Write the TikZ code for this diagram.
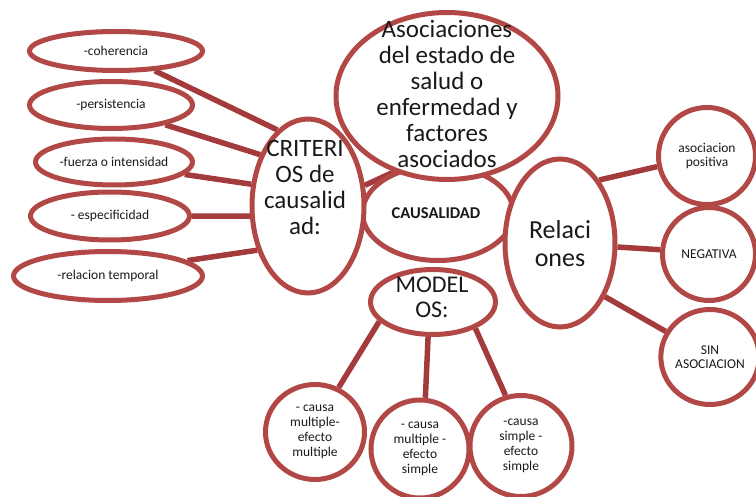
\documentclass[tikz,border=0pt]{standalone}
\usepackage{fontspec}
\setmainfont{Carlito}
\usetikzlibrary{shapes.geometric,backgrounds}
\definecolor{rim}{HTML}{B14846}
\definecolor{link}{HTML}{A33B3D}
\definecolor{ink}{HTML}{1A1A1A}
\begin{document}
\begin{tikzpicture}[x=1pt,y=-1pt,
  bub/.style={ellipse, draw=rim, line width=5pt, fill=white, inner sep=0pt},
  small/.style={font=\fontsize{13.5}{14.5}\selectfont, text=ink, align=center},
  big/.style={font=\fontsize{25}{26}\selectfont, text=ink, align=center},
  wire/.style={draw=link, line width=5.5pt}]
\useasboundingbox (0,0) rectangle (756,497);

% central concept and the bubbles around it
\node[bub, minimum width=151pt, minimum height=95pt] (caus) at (438,213) {};
\node[font=\fontsize{16.5}{18}\bfseries, text=ink] (caus-t) at (436,213) {CAUSALIDAD};

\node[bub, minimum width=112pt, minimum height=174pt] (crit) at (308,206) {};
\node[big] (crit-t) at (305,187) {CRITERI\\OS de\\causalid\\ad:};

\node[bub, minimum width=222pt, minimum height=167pt] (asoc) at (447,96) {};
\node[big] (asoc-t) at (447,93.5) {Asociaciones\\del estado de\\salud o\\enfermedad y\\factores\\asociados};

\node[bub, minimum width=110pt, minimum height=168pt] (rel) at (560,243) {};
\node[font=\fontsize{26}{28}\selectfont, text=ink, align=center] (rel-t) at (560,243.5) {Relaci\\ones};

\node[bub, minimum width=125pt, minimum height=65pt] (mod) at (433,302) {};
\node[font=\fontsize{24}{25}\selectfont, text=ink, align=center] (mod-t) at (432,297) {MODEL\\OS:};

% causality criteria
\node[bub, small, minimum width=173pt, minimum height=39pt] (coh) at (116,51) {-coherencia};
\node[bub, small, minimum width=163pt, minimum height=47pt] (pers) at (111,105) {-persistencia};
\node[bub, small, minimum width=157pt, minimum height=46pt] (fue) at (114,162) {-fuerza o intensidad};
\node[bub, small, minimum width=159pt, minimum height=48pt] (esp) at (110,216) {- especificidad};
\node[bub, small, minimum width=189pt, minimum height=49pt] (rtemp) at (108,276) {-relacion temporal};

% kinds of relation
\node[bub, small, minimum width=97pt, minimum height=97pt] (pos) at (707,156) {asociacion\\positiva};
\node[bub, small, minimum width=93pt, minimum height=93pt] (neg) at (709,254) {NEGATIVA};
\node[bub, small, minimum width=93pt, minimum height=95pt] (sin) at (710,357) {SIN\\ASOCIACION};

% causal models
\node[bub, small, minimum width=99pt, minimum height=95pt, font=\fontsize{13.5}{15}\selectfont] (cmem) at (315,432) {- causa\\multiple-\\efecto\\multiple};
\node[bub, small, minimum width=98pt, minimum height=98pt, font=\fontsize{13.5}{15}\selectfont] (cmes) at (420,449) {- causa\\multiple -\\efecto\\simple};
\node[bub, small, minimum width=102pt, minimum height=101pt, font=\fontsize{13.5}{15}\selectfont] (cses) at (521,446) {-causa\\simple -\\efecto\\simple};

% connectors run underneath the filled bubbles
\begin{pgfonlayer}{background}
  \draw[wire] (coh.-27) -- (crit.112);
  \draw[wire] (pers.-20) -- (crit.133);
  \draw[wire] (fue.-10) -- (crit.159);
  \draw[wire] (esp.0) -- (crit.190);
  \draw[wire] (rtemp.11) -- (crit.221);
  \draw[wire] (crit.20) -- (caus.134);
  \draw[wire] (rel.58) -- (pos.192);
  \draw[wire] (rel.-4) -- (neg.175);
  \draw[wire] (rel.-50) -- (sin.150);
  \draw[wire] (mod.200) -- (cmem.62);
  \draw[wire] (mod.-98) -- (cmes.84);
  \draw[wire] (mod.-32) -- (cses.107);
\end{pgfonlayer}
\end{tikzpicture}
\end{document}
